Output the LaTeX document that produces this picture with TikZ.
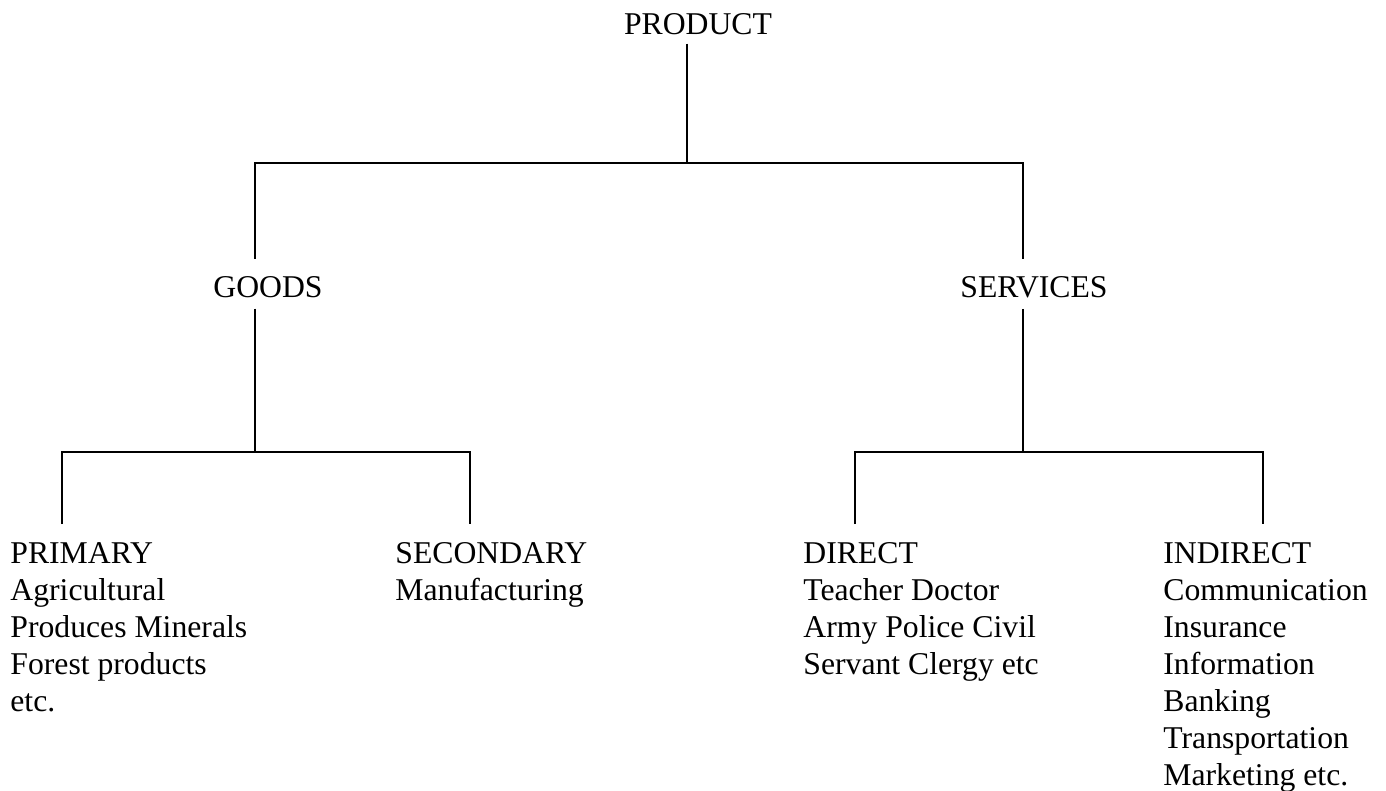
\documentclass[tikz,border=0pt]{standalone}
\usepackage{fontspec}
\setmainfont{Liberation Serif}
\usepackage{tikz}
\usetikzlibrary{calc}
\tikzset{
  lbl/.style={inner sep=0pt, font=\fontsize{15.85}{18.5}\selectfont},
  listlbl/.style={lbl, align=left, anchor=north west},
  tree/.style={line width=1pt, black}
}

\begin{document}
\begin{tikzpicture}[x=0.5pt, y=-0.5pt]
  \useasboundingbox (0,0) rectangle (1386,791);

  % labels
  \node[lbl, anchor=base] (product) at (698,35) {PRODUCT};
  \node[lbl, anchor=base west] (goods) at (213,298) {GOODS};
  \node[lbl, anchor=base west] (services) at (960,298) {SERVICES};
  \node[listlbl] (primary) at (10,542)
      {PRIMARY\\Agricultural\\Produces Minerals\\Forest products\\etc.};
  \node[listlbl] (secondary) at (395,542)
      {SECONDARY\\Manufacturing};
  \node[listlbl] (direct) at (803,542)
      {DIRECT\\Teacher Doctor\\Army Police Civil\\Servant Clergy etc};
  \node[listlbl] (indirect) at (1163,542)
      {INDIRECT\\Communication\\Insurance\\Information\\Banking\\Transportation\\Marketing etc.};

  % bracket corners
  \coordinate (top) at (687,163);
  \coordinate (gtop) at (255,163);
  \coordinate (stop) at (1023,163);
  \coordinate (gbar) at (255,452);
  \coordinate (sbar) at (1023,452);
  \coordinate (pl) at (62,452);
  \coordinate (pr) at (470,452);
  \coordinate (dl) at (855,452);
  \coordinate (dr) at (1263,452);

  % first level
  \draw[tree] ([yshift=-4pt]product.south -| top) -- (top);
  \draw[tree] ([yshift=9pt]goods.north -| gtop) -- (gtop) -- (stop)
      -- ([yshift=9pt]services.north -| stop);

  % goods branch
  \draw[tree] ([yshift=-5pt]goods.south -| gbar) -- (gbar);
  \draw[tree] ([yshift=9pt]primary.north -| pl) -- (pl) -- (pr)
      -- ([yshift=9pt]secondary.north -| pr);

  % services branch
  \draw[tree] ([yshift=-5pt]services.south -| sbar) -- (sbar);
  \draw[tree] ([yshift=9pt]direct.north -| dl) -- (dl) -- (dr)
      -- ([yshift=9pt]indirect.north -| dr);
\end{tikzpicture}
\end{document}
